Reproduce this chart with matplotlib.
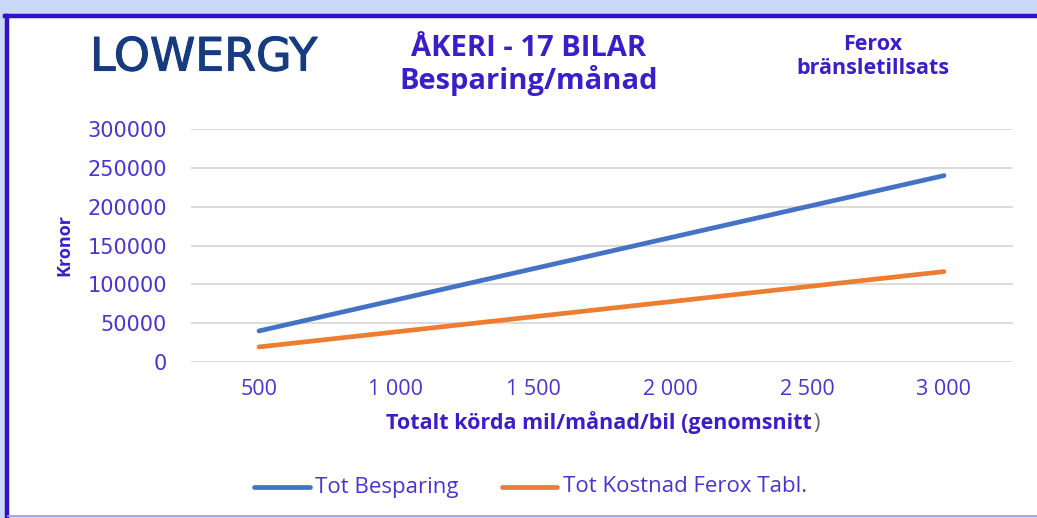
import matplotlib
matplotlib.use('Agg')
import matplotlib.pyplot as plt
import matplotlib.patheffects as pe
from matplotlib.patches import Rectangle
from matplotlib.lines import Line2D


# data
km = ['500', '1 000', '1 500', '2 000', '2 500', '3 000']
besparing = [40000, 80000, 120000, 160000, 200000, 240000]
kostnad = [19400, 38800, 58200, 77600, 97000, 116400]
yticks = [0, 50000, 100000, 150000, 200000, 250000, 300000]

BLUE = '#4472c4'
ORANGE = '#ed7d31'
TXT = '#3a1ec8'
TICK = '#4a34d0'
FONT = 'Open Sans'

W, H = 1037, 518


def fx(px):
    return px / W


def fy(py):
    return 1 - py / H


fig = plt.figure(figsize=(W / 100, H / 100), dpi=100)
fig.patch.set_facecolor('#c9d8f6')

# frame
fig.patches.append(Rectangle((fx(7), fy(515)), fx(1040) - fx(7), fy(16) - fy(515),
                             transform=fig.transFigure, facecolor='white',
                             edgecolor='none', zorder=-2))
fig.add_artist(Line2D([fx(7), fx(7)], [fy(16), fy(518)], transform=fig.transFigure,
                      color='#3010c8', lw=3.2))
fig.add_artist(Line2D([fx(5), fx(1037)], [fy(16), fy(16)], transform=fig.transFigure,
                      color='#3010c8', lw=3.2))
fig.add_artist(Line2D([fx(8), fx(1037)], [fy(515.5), fy(515.5)], transform=fig.transFigure,
                      color='#a89ce8', lw=1.2))

ax = fig.add_axes([fx(190.5), fy(362), fx(1012.5) - fx(190.5), fy(129) - fy(362)])
ax.set_facecolor('none')

x = list(range(len(km)))
ax.plot(x, besparing, color=BLUE, lw=3.4, solid_capstyle='round', zorder=3)
ax.plot(x, kostnad, color=ORANGE, lw=3.4, solid_capstyle='round', zorder=3)

ax.set_xlim(-0.5, len(km) - 0.5)
ax.set_ylim(0, 300000)
ax.set_yticks(yticks)
ax.set_yticklabels([str(v) for v in yticks], fontsize=15, color=TICK, family='DejaVu Sans')
ax.set_xticks(x)
ax.set_xticklabels(km, fontsize=15.5, color=TICK, family=FONT)
ax.tick_params(axis='y', length=0, pad=17)
ax.tick_params(axis='x', length=0, pad=12)
ax.grid(axis='y', color='#d9d9d9', lw=1.3, zorder=0)
for s in ax.spines.values():
    s.set_visible(False)
ax.set_axisbelow(True)

# texts
fig.text(fx(90), fy(58), 'LOWERGY', fontsize=33, color='#173c7e', family='DejaVu Sans',
         ha='left', va='center',
         path_effects=[pe.withStroke(linewidth=0.8, foreground='#173c7e')])
fig.text(fx(529), fy(48), 'ÅKERI - 17 BILAR', fontsize=21, color=TXT, family=FONT,
         weight='bold', ha='center', va='center')
fig.text(fx(529), fy(81), 'Besparing/månad', fontsize=21, color=TXT, family=FONT,
         weight='bold', ha='center', va='center')
fig.text(fx(873), fy(44), 'Ferox', fontsize=15.5, color=TXT, family=FONT,
         weight='bold', ha='center', va='center')
fig.text(fx(873), fy(68), 'bränsletillsats', fontsize=15.5, color=TXT, family=FONT,
         weight='bold', ha='center', va='center')
fig.text(fx(64), fy(245), 'Kronor', fontsize=13, color=TXT, family=FONT,
         weight='bold', ha='center', va='center', rotation=90)
fig.text(fx(812), fy(423), 'Totalt körda mil/månad/bil (genomsnitt', fontsize=15.5,
         color=TXT, family=FONT, weight='bold', ha='right', va='center')
fig.text(fx(813), fy(423), ')', fontsize=15.5, color='#666666', family=FONT,
         ha='left', va='center')

# legend
fig.add_artist(Line2D([fx(254), fx(310)], [fy(487), fy(487)], transform=fig.transFigure,
                      color=BLUE, lw=3.4, solid_capstyle='round'))
fig.text(fx(315), fy(487), 'Tot Besparing', fontsize=16, color=TICK, family=FONT,
         ha='left', va='center')
fig.add_artist(Line2D([fx(502), fx(557)], [fy(487), fy(487)], transform=fig.transFigure,
                      color=ORANGE, lw=3.4, solid_capstyle='round'))
fig.text(fx(563), fy(487), 'Tot Kostnad Ferox Tabl.', fontsize=16, color=TICK, family=FONT,
         ha='left', va='center')

fig.savefig('out.png', dpi=100, facecolor=fig.get_facecolor())
